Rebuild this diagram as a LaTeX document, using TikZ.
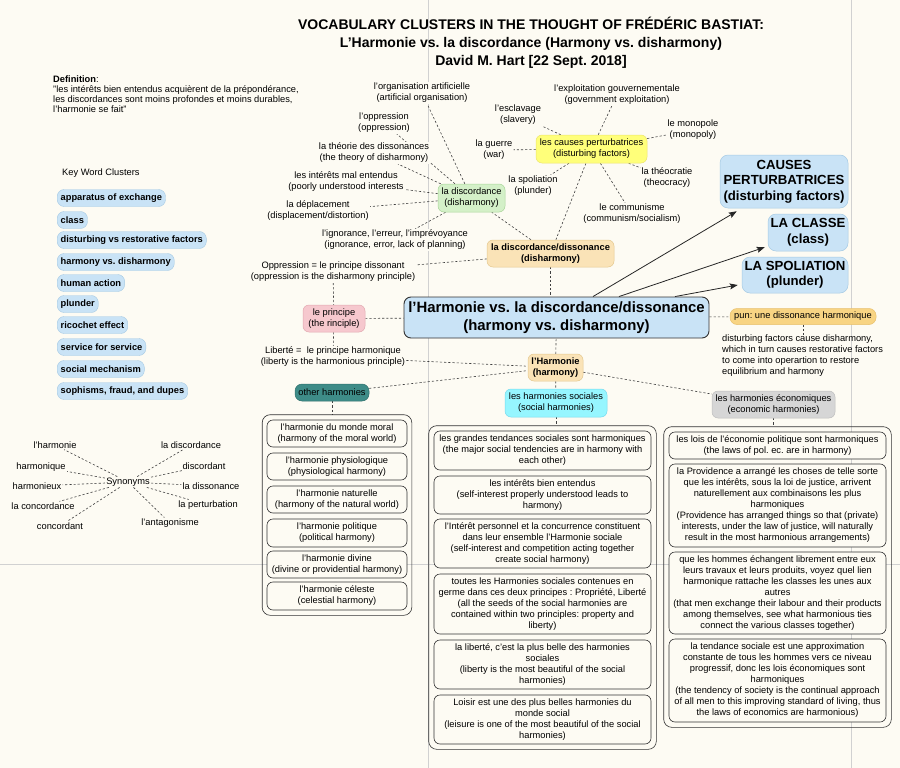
\documentclass[tikz,border=0pt]{standalone}
\usepackage{fontspec}
\setmainfont{Liberation Sans}
\usetikzlibrary{arrows.meta, fit}
\usepackage{xcolor}
\frenchspacing

\definecolor{paper}{RGB}{253,251,243}
\definecolor{pillblue}{RGB}{201,227,246}
\definecolor{pillline}{RGB}{165,202,228}
\definecolor{peach}{RGB}{250,227,183}
\definecolor{peachline}{RGB}{228,200,142}
\definecolor{lemon}{RGB}{255,255,122}
\definecolor{lemonline}{RGB}{236,228,110}
\definecolor{mint}{RGB}{212,240,200}
\definecolor{mintline}{RGB}{168,214,152}
\definecolor{rose}{RGB}{246,200,206}
\definecolor{roseline}{RGB}{226,168,176}
\definecolor{teal}{RGB}{62,140,136}
\definecolor{tealline}{RGB}{48,112,108}
\definecolor{aqua}{RGB}{150,246,255}
\definecolor{aqualine}{RGB}{118,218,238}
\definecolor{stone}{RGB}{214,214,214}
\definecolor{stoneline}{RGB}{190,190,190}
\definecolor{amber}{RGB}{248,212,131}
\definecolor{amberline}{RGB}{232,192,108}

\newcommand{\boxfont}{\fontsize{9.3}{11}\selectfont}

\pgfdeclarelayer{back}
\pgfdeclarelayer{links}
\pgfsetlayers{back,links,main}

\begin{document}
\begin{tikzpicture}[x=1pt, y=-1pt,
    every node/.style={font=\boxfont},
    link/.style={line width=0.6pt, draw=black!75, dash pattern=on 2.2pt off 2pt},
    push/.style={line width=0.8pt, draw=black!85, -{Stealth[length=8pt,width=6pt,inset=1.5pt]}},
    word/.style={fill=paper, inner sep=1pt, align=center},
    pill/.style={draw=pillline, fill=pillblue, rounded corners=7pt, anchor=west, inner xsep=3.5pt, inner ysep=1pt, minimum height=17pt, font=\bfseries\boxfont},
    hub/.style={rounded corners=6pt, align=center, inner sep=1pt, line width=0.5pt},
    bigbox/.style={hub, draw=pillline, fill=pillblue, rounded corners=8pt, font=\bfseries\fontsize{13.2}{15.5}\selectfont},
    entry/.style={draw=black!80, fill=paper, rounded corners=6pt, align=center, inner sep=1pt, line width=0.6pt},
    holder/.style={draw=black!80, rounded corners=8pt, inner sep=5pt, line width=0.6pt},
  ]
        % Page and page-break guides
        \useasboundingbox (0,0) rectangle (900,768);
        \begin{pgfonlayer}{back}
          \fill[paper] (0,0) rectangle (900,768);
          \draw[black!18, line width=0.6pt] (428,0) -- (428,768);
          \draw[black!18, line width=0.6pt] (851,0) -- (851,768);
          \draw[black!18, line width=0.6pt] (0,564) -- (900,564);
        \end{pgfonlayer}

        % Title
        \node[font=\bfseries\fontsize{14}{18}\selectfont, align=center] (title) at (531,43)
          {VOCABULARY CLUSTERS IN THE THOUGHT OF FRÉDÉRIC BASTIAT:\\
           L’Harmonie vs. la discordance (Harmony vs. disharmony)\\
           David M. Hart [22 Sept. 2018]};

        % Definition
        \node[anchor=north west, align=left, inner sep=0pt, font=\fontsize{9.3}{9.8}\selectfont] (defn) at (53,76)
          {\textbf{Definition}:\\
           "les intérêts bien entendus acquièrent de la prépondérance,\\
           les discordances sont moins profondes et moins durables,\\
           l'harmonie se fait"};

        % Key word clusters
        \node[anchor=west, inner sep=0pt] (kwTitle) at (62,173) {Key Word Clusters};
        \node[pill] (kwApparatus) at (57,198) {apparatus of exchange};
        \node[pill] (kwClass) at (57,220) {class};
        \node[pill] (kwFactors) at (57,240) {disturbing vs restorative factors};
        \node[pill] (kwHarmony) at (57,262) {harmony vs. disharmony};
        \node[pill] (kwAction) at (57,283) {human action};
        \node[pill] (kwPlunder) at (57,304) {plunder};
        \node[pill] (kwRicochet) at (57,325) {ricochet effect};
        \node[pill] (kwService) at (57,347) {service for service};
        \node[pill] (kwMechanism) at (57,369) {social mechanism};
        \node[pill] (kwSophisms) at (57,391) {sophisms, fraud, and dupes};

        % Synonyms
        \node[word] (syn) at (128,482) {Synonyms};
        \node[word] (synHarmonie) at (55,445) {l'harmonie};
        \node[word] (synHarmonique) at (41,467) {harmonique};
        \node[word] (synHarmonieux) at (37,486) {harmonieux};
        \node[word] (synConcordance) at (43,506) {la concordance};
        \node[word] (synConcordant) at (60,526) {concordant};
        \node[word] (synDiscordance) at (191,445) {la discordance};
        \node[word] (synDiscordant) at (204,466) {discordant};
        \node[word] (synDissonance) at (211,486) {la dissonance};
        \node[word] (synPerturbation) at (208,505) {la perturbation};
        \node[word] (synAntagonisme) at (170,523) {l'antagonisme};

        % Central node and its two sides
        \node[hub, draw=black!80, line width=0.9pt, fill=pillblue, rounded corners=7pt, minimum width=305pt, minimum height=41pt,
              font=\bfseries\fontsize{14.9}{18}\selectfont] (central) at (556.5,317.5)
          {l’Harmonie vs. la discordance/dissonance\\(harmony vs. disharmony)};
        \node[hub, draw=peachline, fill=peach, minimum width=127pt, minimum height=27pt, font=\bfseries\boxfont] (discDiss) at (550.5,253.5)
          {la discordance/dissonance\\(disharmony)};
        \node[hub, draw=peachline, fill=peach, minimum width=55pt, minimum height=27pt, font=\bfseries\boxfont] (lHarm) at (555.5,367.5)
          {l'Harmonie\\(harmony)};

        % Disharmony clusters
        \node[hub, draw=lemonline, fill=lemon, minimum width=111pt, minimum height=28pt] (causes) at (591.5,149)
          {les causes perturbatrices\\(disturbing factors)};
        \node[hub, draw=mintline, fill=mint, minimum width=67pt, minimum height=28pt] (discGreen) at (471.5,198)
          {la discordance\\(disharmony)};

        \node[word] (orgArt) at (422,93) {l’organisation artificielle\\(artificial organisation)};
        \node[word] (oppr) at (384,123) {l’oppression\\(oppression)};
        \node[word] (theory) at (374,153) {la théorie des dissonances\\(the theory of disharmony)};
        \node[word] (malEnt) at (346,182) {les intérêts mal entendus\\(poorly understood interests};
        \node[word] (deplac) at (318,211) {la déplacement\\(displacement/distortion)};
        \node[word] (ignor) at (395,240) {l’ignorance, l’erreur, l’imprévoyance\\(ignorance, error, lack of planning)};

        \node[word] (exploit) at (617,95) {l'exploitation gouvernementale\\(government exploitation)};
        \node[word] (slavery) at (518,115) {l'esclavage\\(slavery)};
        \node[word] (monopoly) at (693,130) {le monopole\\(monopoly)};
        \node[word] (war) at (494,150) {la guerre\\(war)};
        \node[word] (plunderW) at (533,186) {la spoliation\\(plunder)};
        \node[word] (theocracy) at (667,178) {la théocratie\\(theocracy)};
        \node[word] (communism) at (632,214) {le communisme\\(communism/socialism)};

        % Principle
        \node[word] (oppPrinc) at (333,272) {Oppression = le principe dissonant\\(oppression is the disharmony principle)};
        \node[hub, draw=roseline, fill=rose, minimum width=62pt, minimum height=27pt] (principe) at (334,318.5)
          {le principe\\(the rinciple)};
        \node[word] (libPrinc) at (333,357) {Liberté =\ \ le principe harmonique\\(liberty is the harmonious principle)};

        % Big key ideas
        \node[bigbox, minimum width=128pt, minimum height=53pt] (bigCauses) at (784,181.5)
          {CAUSES\\PERTURBATRICES\\(disturbing factors)};
        \node[bigbox, minimum width=80pt, minimum height=37pt] (bigClasse) at (808,232.5) {LA CLASSE\\(class)};
        \node[bigbox, minimum width=106pt, minimum height=36pt] (bigSpol) at (795,275) {LA SPOLIATION\\(plunder)};

        % Pun
        \node[hub, draw=amberline, fill=amber, minimum width=146pt, minimum height=16pt, rounded corners=7pt] (pun) at (803,316.5)
          {pun: une dissonance harmonique};
        \node[anchor=north west, align=left, inner sep=0pt] (desc) at (722,334.5)
          {disturbing factors cause disharmony,\\which in turn causes restorative factors\\to come into operartion to restore\\equilibrium and harmony};

        % Harmony heads
        \node[hub, draw=tealline, fill=teal, minimum width=74pt, minimum height=17pt, rounded corners=7pt] (otherH) at (332,392.5)
          {other harmonies};
        \node[hub, draw=aqualine, fill=aqua, minimum width=102pt, minimum height=28pt] (socH) at (556,403)
          {les harmonies sociales\\(social harmonies)};
        \node[hub, draw=stoneline, fill=stone, minimum width=123pt, minimum height=27pt] (ecoH) at (773.5,404.5)
          {les harmonies économiques\\(economic harmonies)};

        % Other harmonies list
        \node[entry, minimum width=140pt, minimum height=27pt] (oh1) at (337,433.5) {l'harmonie du monde moral\\(harmony of the moral world)};
        \node[entry, minimum width=140pt, minimum height=27pt] (oh2) at (337,466.5) {l'harmonie physiologique\\(physiological harmony)};
        \node[entry, minimum width=140pt, minimum height=27pt] (oh3) at (337,499.5) {l'harmonie naturelle\\(harmony of the natural world)};
        \node[entry, minimum width=140pt, minimum height=28pt] (oh4) at (337,533) {l'harmonie politique\\(political harmony)};
        \node[entry, minimum width=140pt, minimum height=27pt] (oh5) at (337,564.5) {l'harmonie divine\\(divine or providential harmony)};
        \node[entry, minimum width=140pt, minimum height=28pt] (oh6) at (337,596) {l'harmonie céleste\\(celestial harmony)};
        \node[holder, inner xsep=4.5pt, fit=(oh1)(oh6)] (ohBox) {};

        % Social harmonies list
        \node[entry, minimum width=217pt, minimum height=39pt] (sc1) at (542.5,450.5)
          {les grandes tendances sociales sont harmoniques\\(the major social tendencies are in harmony with\\each other)};
        \node[entry, minimum width=217pt, minimum height=38pt] (sc2) at (542.5,495)
          {les intérêts bien entendus\\(self-interest properly understood leads to\\harmony)};
        \node[entry, minimum width=217pt, minimum height=49pt] (sc3) at (542.5,543.5)
          {l'Intérêt personnel et la concurrence constituent\\dans leur ensemble l'Harmonie sociale\\(self-interest and competition acting together\\create social harmony)};
        \node[entry, minimum width=217pt, minimum height=60pt] (sc4) at (542.5,604)
          {toutes les Harmonies sociales contenues en\\germe dans ces deux principes : Propriété, Liberté\\(all the seeds of the social harmonies are\\contained within two principles: property and\\liberty)};
        \node[entry, minimum width=217pt, minimum height=49pt] (sc5) at (542.5,664.5)
          {la liberté, c'est la plus belle des harmonies\\sociales\\(liberty is the most beautiful of the social\\harmonies)};
        \node[entry, minimum width=217pt, minimum height=49pt] (sc6) at (542.5,719.5)
          {Loisir est une des plus belles harmonies du\\monde social\\(leisure is one of the most beautiful of the social\\harmonies)};
        \node[holder, fit=(sc1)(sc6)] (scBox) {};

        % Economic harmonies list
        \node[entry, minimum width=217pt, minimum height=27pt] (ec1) at (777.5,445.5)
          {les lois de l'économie politique sont harmoniques\\(the laws of pol. ec. are in harmony)};
        \node[entry, minimum width=217pt, minimum height=83pt] (ec2) at (777.5,505.5)
          {la Providence a arrangé les choses de telle sorte\\que les intérêts, sous la loi de justice, arrivent\\naturellement aux combinaisons les plus\\harmoniques\\(Providence has arranged things so that (private)\\interests, under the law of justice, will naturally\\result in the most harmonious arrangements)};
        \node[entry, minimum width=217pt, minimum height=82pt] (ec3) at (777.5,593)
          {que les hommes échangent librement entre eux\\leurs travaux et leurs produits, voyez quel lien\\harmonique rattache les classes les unes aux\\autres\\(that men exchange their labour and their products\\among themselves, see what harmonious ties\\connect the various classes together)};
        \node[entry, minimum width=217pt, minimum height=83pt] (ec4) at (777.5,680.5)
          {la tendance sociale est une approximation\\constante de tous les hommes vers ce niveau\\progressif, donc les lois économiques sont\\harmoniques\\(the tendency of society is the continual approach\\of all men to this improving standard of living, thus\\the laws of economics are harmonious)};
        \node[holder, fit=(ec1)(ec4)] (ecBox) {};

        \begin{pgfonlayer}{links}
          % Synonym spokes
          \draw[link] (syn) -- (synHarmonie);
          \draw[link] (syn) -- (synHarmonique);
          \draw[link] (syn) -- (synHarmonieux);
          \draw[link] (syn) -- (synConcordance);
          \draw[link] (syn) -- (synConcordant);
          \draw[link] (syn) -- (synDiscordance);
          \draw[link] (syn) -- (synDiscordant);
          \draw[link] (syn) -- (synDissonance);
          \draw[link] (syn) -- (synPerturbation);
          \draw[link] (syn) -- (synAntagonisme);

          % Spokes of la discordance
          \draw[link] (discGreen) -- (orgArt);
          \draw[link] (discGreen) -- (oppr);
          \draw[link] (discGreen) -- (theory);
          \draw[link] (discGreen) -- (malEnt);
          \draw[link] (discGreen) -- (deplac);
          \draw[link] (discGreen) -- (ignor);

          % Spokes of the disturbing factors
          \draw[link] (causes) -- (exploit);
          \draw[link] (causes) -- (slavery);
          \draw[link] (causes) -- (monopoly);
          \draw[link] (causes) -- (war);
          \draw[link] (causes) -- (plunderW);
          \draw[link] (causes) -- (theocracy);
          \draw[link] (causes) -- (communism);

          % Disharmony side
          \draw[link] (discDiss) -- (discGreen);
          \draw[link] (discDiss) -- (causes);
          \draw[link] (discDiss) -- (oppPrinc);
          \draw[link] (discDiss.south) -- (discDiss.south |- central.north);

          % Principle
          \draw[link] (oppPrinc) -- (principe);
          \draw[link] (principe) -- (libPrinc);
          \draw[link] (principe) -- (central);

          % Harmony side
          \draw[link] (lHarm) -- (central);
          \draw[link] (libPrinc) -- (lHarm);
          \draw[link] (otherH) -- (lHarm);
          \draw[link] (lHarm) -- (socH);
          \draw[link] (lHarm) -- (ecoH);
          \draw[link] (otherH.south) -- (otherH.south |- ohBox.north);
          \draw[link] (socH.south) -- (socH.south |- scBox.north);
          \draw[link] (ecoH.south) -- (ecoH.south |- ecBox.north);

          % Pun
          \draw[link] (central) -- (pun);
          \draw[link] (pun.south) -- (pun.south |- desc.north);

          % Arrows to the key ideas
          \draw[push] ([xshift=36.5pt]central.north) -- ([xshift=17pt,yshift=-3pt]bigCauses.south west);
          \draw[push] ([xshift=62.5pt]central.north) -- ([xshift=-3pt,yshift=4pt]bigClasse.south west);
          \draw[push] ([xshift=118.5pt]central.north) -- ([xshift=-4pt,yshift=-10pt]bigSpol.west);
        \end{pgfonlayer}
\end{tikzpicture}
\end{document}
